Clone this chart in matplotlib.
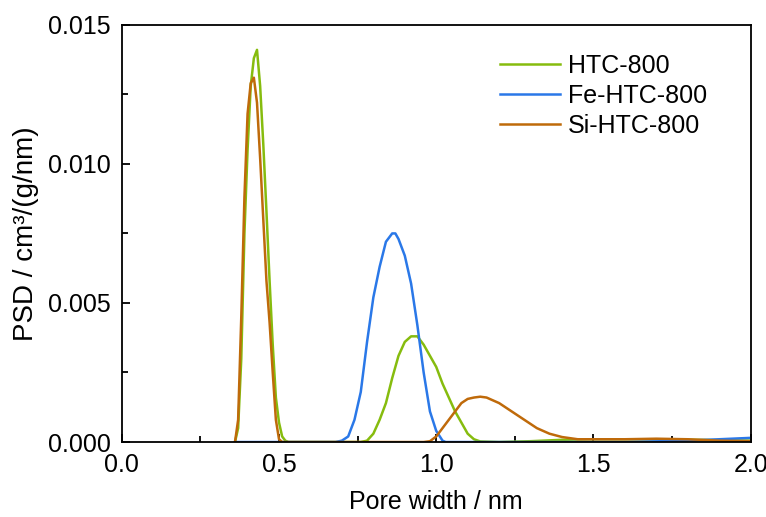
import numpy as np
import matplotlib.pyplot as plt
from matplotlib.ticker import MultipleLocator

plt.rcParams['font.family'] = ['Liberation Sans', 'DejaVu Sans']

# HTC-800
htc_x = [0.36, 0.37, 0.38, 0.39, 0.40, 0.41, 0.42, 0.43, 0.44, 0.45, 0.46, 0.47,
         0.48, 0.49, 0.50, 0.51, 0.52, 0.53, 0.76, 0.78, 0.80, 0.82, 0.84, 0.86,
         0.88, 0.90, 0.92, 0.94, 0.96, 0.98, 1.00, 1.02, 1.04, 1.06, 1.08, 1.10,
         1.12, 1.14, 1.20, 1.30, 1.40, 1.50, 1.70, 2.00]
htc_y = [0.0, 0.0005, 0.003, 0.0075, 0.0105, 0.0128, 0.0138, 0.0141, 0.0128, 0.0107,
         0.0083, 0.0058, 0.0035, 0.0016, 0.0007, 0.0002, 0.00005, 0.0, 0.0, 0.00005,
         0.0003, 0.0008, 0.0014, 0.0023, 0.0031, 0.0036, 0.0038, 0.0038, 0.0035,
         0.0031, 0.0027, 0.0021, 0.0016, 0.0011, 0.0007, 0.0003, 0.0001, 0.00002,
         0.0, 0.00003, 0.00008, 0.0001, 0.0001, 0.00005]

# Fe-HTC-800
fe_x = [0.36, 0.68, 0.70, 0.72, 0.74, 0.76, 0.78, 0.80, 0.82, 0.84, 0.86, 0.87,
        0.88, 0.90, 0.92, 0.94, 0.96, 0.98, 1.00, 1.02, 1.03, 1.60, 1.80, 2.00]
fe_y = [0.0, 0.0, 0.00005, 0.0002, 0.0008, 0.0018, 0.0036, 0.0052, 0.0063, 0.0072,
        0.0075, 0.0075, 0.0073, 0.0067, 0.0057, 0.0042, 0.0025, 0.0011, 0.0004,
        0.00005, 0.0, 0.0, 0.00005, 0.00015]

# Si-HTC-800
si_x = [0.36, 0.37, 0.38, 0.39, 0.40, 0.41, 0.42, 0.43, 0.44, 0.45, 0.46, 0.47,
        0.48, 0.49, 0.50, 0.51, 0.96, 0.98, 1.00, 1.02, 1.04, 1.06, 1.08, 1.10,
        1.12, 1.14, 1.16, 1.18, 1.20, 1.24, 1.28, 1.32, 1.36, 1.40, 1.45, 1.50,
        1.60, 1.70, 1.80, 1.90, 2.00]
si_y = [0.0, 0.0008, 0.0045, 0.0088, 0.0118, 0.0129, 0.0131, 0.0122, 0.0102, 0.0080,
        0.0058, 0.0043, 0.0025, 0.0008, 0.0001, 0.0, 0.0, 0.00003, 0.0002, 0.0005,
        0.0008, 0.0011, 0.0014, 0.00155, 0.0016, 0.00163, 0.0016, 0.0015, 0.0014,
        0.0011, 0.0008, 0.0005, 0.0003, 0.00018, 0.0001, 0.0001, 0.0001, 0.00012,
        0.0001, 0.00005, 0.00003]

fs = 18

fig = plt.figure(figsize=(7.66, 5.17), dpi=100)
ax = fig.add_axes([0.159, 0.145, 0.821, 0.807])

ax.plot(htc_x, htc_y, color='#86bc0e', lw=1.8, label='HTC-800')
ax.plot(fe_x, fe_y, color='#2a78e8', lw=1.8, label='Fe-HTC-800')
ax.plot(si_x, si_y, color='#bf6a0a', lw=1.8, label='Si-HTC-800')

ax.set_xlim(0, 2.0)
ax.set_ylim(0, 0.015)
ax.xaxis.set_major_locator(MultipleLocator(0.5))
ax.xaxis.set_minor_locator(MultipleLocator(0.25))
ax.yaxis.set_major_locator(MultipleLocator(0.005))
ax.yaxis.set_minor_locator(MultipleLocator(0.0025))
ax.xaxis.set_major_formatter(plt.FormatStrFormatter('%.1f'))
ax.yaxis.set_major_formatter(plt.FormatStrFormatter('%.3f'))
ax.tick_params(which='both', direction='in', labelsize=fs, width=1.3)
ax.tick_params(which='major', length=6)
ax.tick_params(which='minor', length=4)
ax.tick_params(axis='x', which='major', pad=8)
ax.tick_params(axis='y', which='major', pad=8)
for s in ax.spines.values():
    s.set_linewidth(1.3)

ax.set_xlabel('Pore width / nm', fontsize=fs, labelpad=9)
ax.set_ylabel('PSD / cm³/(g/nm)', fontsize=20, labelpad=6)

ax.legend(loc='upper right', frameon=False, fontsize=fs, handlelength=2.4,
          handletextpad=0.35, labelspacing=0.25, bbox_to_anchor=(0.967, 0.985))

fig.savefig('out.png', dpi=100)
